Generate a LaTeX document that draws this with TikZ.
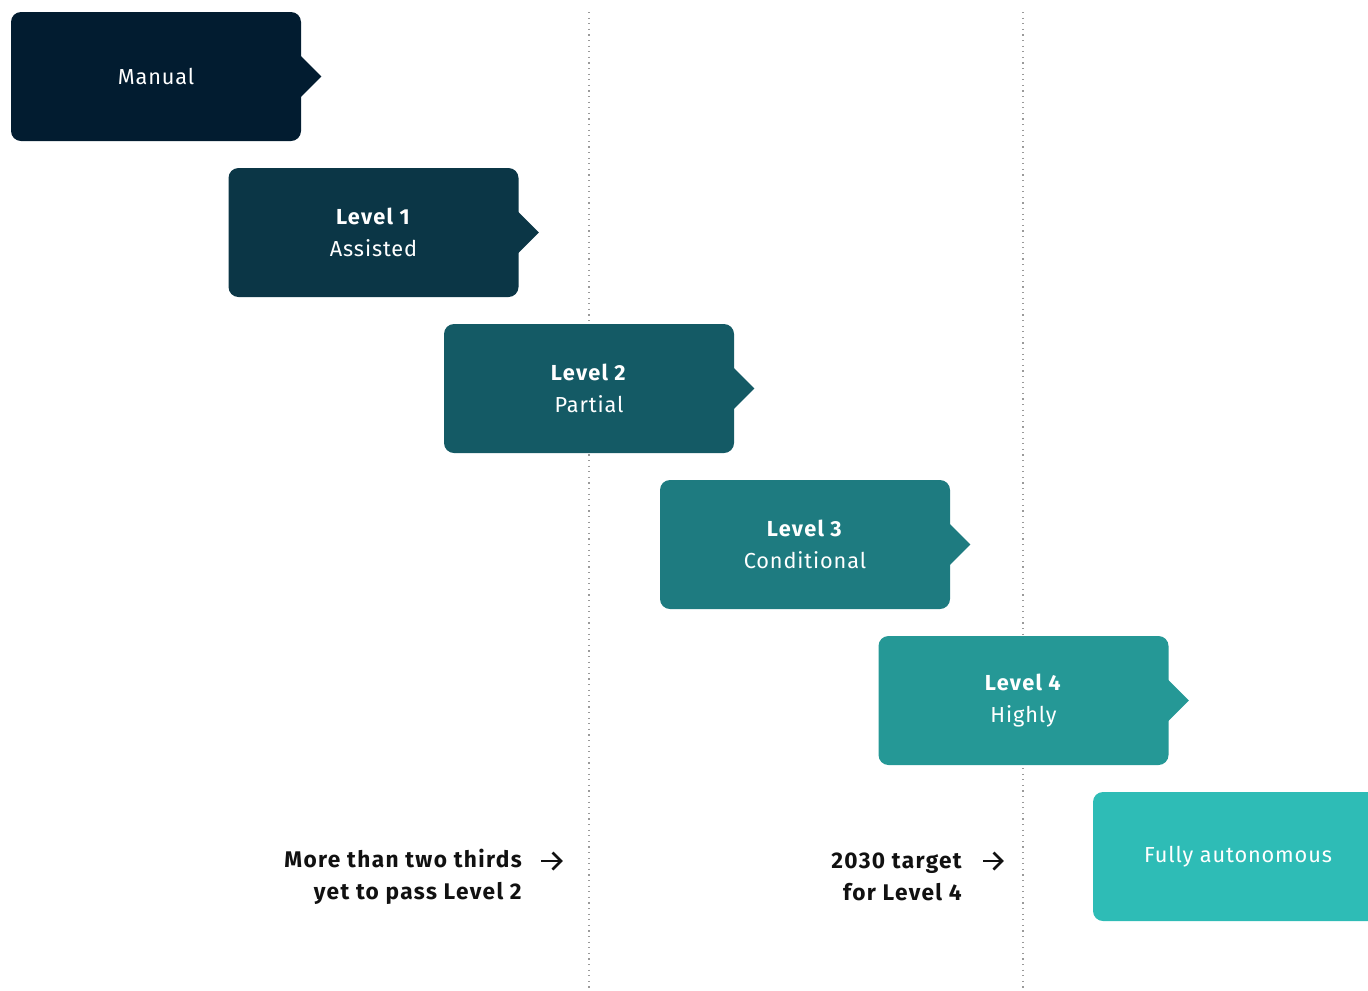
\documentclass[tikz,border=0pt]{standalone}
\usepackage{fontspec}
\setmainfont{Fira Sans}[LetterSpace=4, BoldFeatures={LetterSpace=6}]
\usetikzlibrary{backgrounds}

\definecolor{lvlmanual}{HTML}{021C30}
\definecolor{lvlone}{HTML}{0B3646}
\definecolor{lvltwo}{HTML}{145A65}
\definecolor{lvlthree}{HTML}{1E7B80}
\definecolor{lvlfour}{HTML}{259896}
\definecolor{lvlfull}{HTML}{2EBCB6}
\definecolor{guide}{HTML}{9A9A9A}
\definecolor{note}{HTML}{111111}

\tikzset{
  stage/.style={rectangle, rounded corners=7.5pt, minimum width=217.5pt,
    minimum height=96.75pt, inner sep=0pt, text=white, align=center,
    font=\fontsize{16.3}{24}\selectfont},
  guideline/.style={draw=guide, line width=1pt, dash pattern=on 0.9pt off 3.3pt},
  notetext/.style={text=note, align=right, inner sep=0pt,
    font=\fontsize{17}{24}\selectfont\bfseries},
  notearrow/.style={draw=note, line width=1.9pt},
}

\begin{document}
\begin{tikzpicture}[x=0.75pt, y=-0.75pt]
  \useasboundingbox (0,0) rectangle (1368,990);

  % stages
  \node[stage, fill=lvlmanual] (manual) at (156,76.5) {Manual};
  \fill[lvlmanual] (manual.east) ++(-1,-21) -- ++(21,21) -- ++(-21,21) -- cycle;

  \node[stage, fill=lvlone] (one) at (373.5,232.5) {\textbf{Level 1}\\Assisted};
  \fill[lvlone] (one.east) ++(-1,-21) -- ++(21,21) -- ++(-21,21) -- cycle;

  \node[stage, fill=lvltwo] (two) at (589,388.5) {\textbf{Level 2}\\Partial};
  \fill[lvltwo] (two.east) ++(-1,-21) -- ++(21,21) -- ++(-21,21) -- cycle;

  \node[stage, fill=lvlthree] (three) at (805,544.5) {\textbf{Level 3}\\Conditional};
  \fill[lvlthree] (three.east) ++(-1,-21) -- ++(21,21) -- ++(-21,21) -- cycle;

  \node[stage, fill=lvlfour] (four) at (1023.5,700.5) {\textbf{Level 4}\\Highly};
  \fill[lvlfour] (four.east) ++(-1,-21) -- ++(21,21) -- ++(-21,21) -- cycle;

  \node[stage, fill=lvlfull] (full) at (1238,856.5) {Fully autonomous};

  % milestone notes
  \node[notetext, anchor=east] (notetwo) at (522,877) {More than two thirds\\yet to pass Level 2};
  \node[notetext, anchor=east] (notefour) at (962,877) {2030 target\\for Level 4};

  % small arrows pointing at the guides
  \coordinate (arrowtwoS) at (541,861);
  \coordinate (arrowtwoE) at (561,861);
  \coordinate (arrowfourS) at (983,861);
  \coordinate (arrowfourE) at (1002,861);
  \draw[notearrow] (arrowtwoS) -- (arrowtwoE);
  \draw[notearrow, line join=miter] (arrowtwoE) ++(-8.5,-8.5) -- (arrowtwoE) -- ++(-8.5,8.5);
  \draw[notearrow] (arrowfourS) -- (arrowfourE);
  \draw[notearrow, line join=miter] (arrowfourE) ++(-8.5,-8.5) -- (arrowfourE) -- ++(-8.5,8.5);

  % dotted guides behind the stages
  \coordinate (guideAtop) at (589,12);
  \coordinate (guideAbot) at (589,990);
  \coordinate (guideBtop) at (1023,12);
  \coordinate (guideBbot) at (1023,990);
  \begin{scope}[on background layer]
    \draw[guideline] (guideAtop) -- (guideAbot);
    \draw[guideline] (guideBtop) -- (guideBbot);
  \end{scope}
\end{tikzpicture}
\end{document}
